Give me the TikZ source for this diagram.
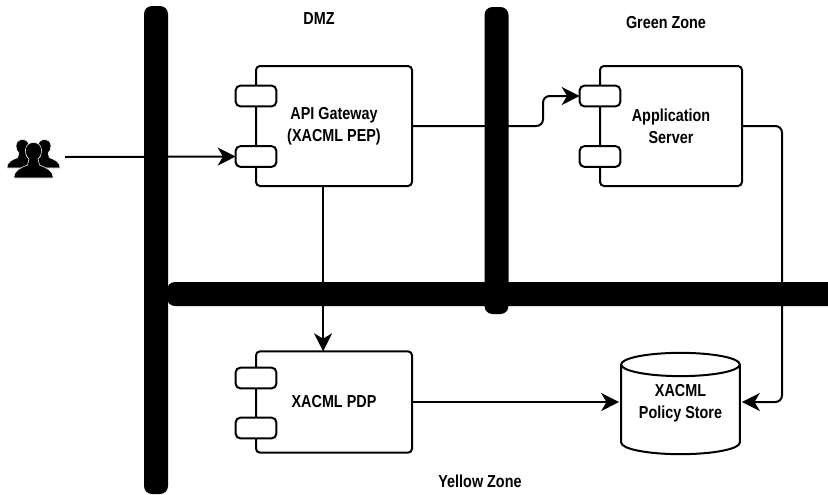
\documentclass[tikz,border=0pt]{standalone}
\usepackage{fontspec}
\setmainfont[FakeStretch=0.83]{Liberation Sans}
\usepackage{tikz}
\usetikzlibrary{positioning}
\usetikzlibrary{arrows.meta,shapes.geometric}
\usetikzlibrary{calc}
\tikzstyle{zonebar}=[fill=black,rounded corners=6pt]
\tikzstyle{component}=[draw=black,line width=1.5pt,rounded corners=3pt,align=center,inner sep=0pt,outer sep=0pt,font=\fontsize{13}{16.5}\selectfont\bfseries]
\tikzstyle{port}=[draw=black,fill=white,line width=1.5pt,rounded corners=3.5pt,minimum width=30.5pt,minimum height=15.5pt,inner sep=0pt,outer sep=0pt]
\tikzstyle{store}=[cylinder,shape border rotate=90,aspect=0.28,draw=black,line width=1.5pt,minimum width=89pt,minimum height=76pt,align=center,inner sep=0pt,outer sep=1.5pt,anchor=shape center,font=\fontsize{13}{16.5}\selectfont\bfseries]
\tikzstyle{storetext}=[align=center,inner sep=0pt,font=\fontsize{13}{16.5}\selectfont\bfseries]
\tikzstyle{link}=[draw,line width=1.5pt,-{Stealth[length=13.5pt,width=13.5pt,inset=4pt]}]
\tikzstyle{zonelabel}=[font=\fontsize{13}{15}\selectfont\bfseries]
\begin{document}
\begin{tikzpicture}[x=0.75pt,y=-0.75pt]
    \useasboundingbox (0,0) rectangle (828,494);

    % First we draw the zone walls
    \fill[zonebar] (144,6) rectangle (168,494);
    \fill[zonebar] (484.5,7) rectangle (508.5,314);
    \fill[zonebar] (167,282) rectangle (840,306);

    \node[zonelabel] (dmz) at (319,19) {DMZ};
    \node[zonelabel] (green) at (666,23) {Green Zone};
    \node[zonelabel] (yellow) at (480,481) {Yellow Zone};

    % The components
    \node[component,minimum width=117pt,minimum height=90pt] (gateway) at (334,126) {API Gateway\\(XACML PEP)};
    \node[component,minimum width=106.5pt,minimum height=90pt] (server) at (671,126) {Application\\Server};
    \node[component,minimum width=117pt,minimum height=76pt] (pdp) at (334,402) {XACML PDP};
    \node[store] (policy) at (680.5,403.5) {\phantom{XACML}\\\phantom{Policy Store}};
    \node[storetext] (policytext) at (policy.shape center) {XACML\\Policy Store};

    \foreach \pos/\name in {{(256,96)/gatewayA}, {(256,156.5)/gatewayB}, {(600,96)/serverA}, {(600,156.5)/serverB}, {(256,378)/pdpA}, {(256,428)/pdpB}}
        \node[port] (\name) at \pos {};

    % The users
    \foreach \x/\y/\s in {22.5/168/0.8, 44.5/168/0.8, 33.5/178/1} {
        \begin{scope}[shift={(\x,\y)},scale=\s]
            \fill[black,draw=white,line width=0.4pt] (-19.5,0) .. controls (-19.5,-8) and (-13,-10) .. (-6,-13)
                -- (-4.5,-19) .. controls (-8,-22) and (-8,-26) .. (-8,-28)
                .. controls (-8,-33) and (-4,-35.5) .. (0,-35.5)
                .. controls (4,-35.5) and (8,-33) .. (8,-28)
                .. controls (8,-26) and (8,-22) .. (4.5,-19)
                -- (6,-13) .. controls (13,-10) and (19.5,-8) .. (19.5,0) -- cycle;
        \end{scope}
    }
    \node[minimum width=42.75pt,minimum height=27pt,inner sep=0pt,outer sep=0pt] (users) at (36.5,157) {};

    % Connect everything
    \coordinate (bendA) at (543,96);
    \coordinate (bendB) at (782,402);
    \path[link] (users.east) -- (gatewayB.west);
    \path[link,rounded corners=5pt] (gateway.east) -| (bendA) -- (serverA.west);
    \path[link,rounded corners=5pt] (server.east) -| (bendB) -- (bendB -| policy.east);
    \path[link] ($(gateway.south west)!0.43!(gateway.south east)$) -- ($(pdp.north west)!0.43!(pdp.north east)$);
    \path[link] (pdp.east) -- (pdp.east -| policy.west);
\end{tikzpicture}
\end{document}
